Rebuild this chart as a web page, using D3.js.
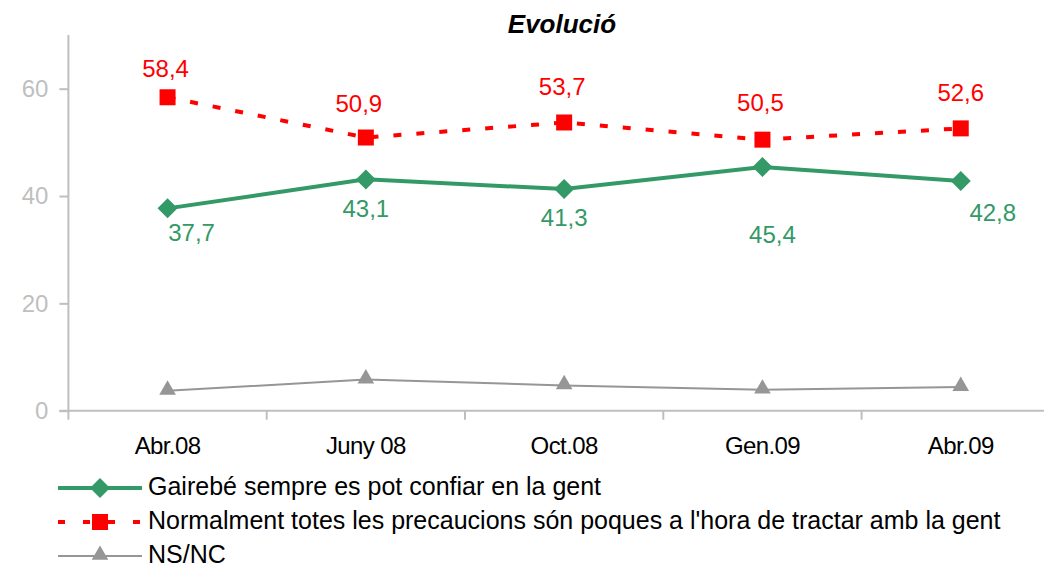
<!DOCTYPE html>
<html>
<head>
<meta charset="utf-8">
<script src="https://cdn.jsdelivr.net/npm/d3@7"></script>
<style>
body { margin: 0; background: #fff; }
svg { font-family: "Liberation Sans", Arial, sans-serif; }
</style>
</head>
<body>
<svg id="chart" width="1044" height="567"></svg>
<script>
var width = 1044;
var height = 567;

// data
var categories = ["Abr.08", "Juny 08", "Oct.08", "Gen.09", "Abr.09"];
var confiar = [37.7, 43.1, 41.3, 45.4, 42.8];
var precaucions = [58.4, 50.9, 53.7, 50.5, 52.6];
var nsnc = [3.7, 5.8, 4.7, 3.9, 4.4];
var yTicks = [0, 20, 40, 60];
var seriesNames = [
    "Gairebé sempre es pot confiar en la gent",
    "Normalment totes les precaucions són poques a l'hora de tractar amb la gent",
    "NS/NC"
];

var green = "#339966", red = "#ff0000", grey = "#969696", axisCol = "#bfbfbf";

var svg = d3.select("#chart");

var x = d3.scaleBand()
    .domain(categories)
    .range([68.4, 68.4 + 5 * 198.3]);

var y = d3.scaleLinear()
    .domain([0, 70])
    .range([410.7, 35]);

// title
svg.append("text")
    .attr("x", 562)
    .attr("y", 33)
    .attr("text-anchor", "middle")
    .style("font-size", "26px")
    .style("font-weight", "bold")
    .style("font-style", "italic")
    .text("Evolució");

// y axis
var yAxis = svg.append("g")
    .attr("transform", "translate(" + x.range()[0] + ",0)")
    .call(d3.axisLeft(y).tickValues(yTicks).tickSize(9).tickPadding(11));
yAxis.select(".domain").attr("d", "M0," + y(0) + "V" + y(70));
yAxis.selectAll("line, path").attr("stroke", axisCol).attr("stroke-width", 2);
yAxis.selectAll("text")
    .attr("fill", axisCol)
    .style("font-size", "24px")
    .style("font-family", "Liberation Sans, Arial, sans-serif");

// x axis, ticks between categories
var bounds = categories.slice(1).map(function(c) { return x(c); });
var xAxis = svg.append("g")
    .attr("transform", "translate(0," + y(0) + ")");
xAxis.append("line")
    .attr("x1", x.range()[0] - 9)
    .attr("x2", width)
    .attr("stroke", axisCol)
    .attr("stroke-width", 2);
xAxis.selectAll(".tk")
    .data([x.range()[0]].concat(bounds))
    .enter().append("line")
    .attr("x1", function(d) { return d; })
    .attr("x2", function(d) { return d; })
    .attr("y1", 0)
    .attr("y2", 9)
    .attr("stroke", axisCol)
    .attr("stroke-width", 2);
xAxis.selectAll(".lbl")
    .data(categories)
    .enter().append("text")
    .attr("x", function(d) { return x(d) + x.bandwidth() / 2; })
    .attr("y", 43)
    .attr("text-anchor", "middle")
    .style("font-size", "24px")
    .style("letter-spacing", "-0.6px")
    .text(function(d) { return d; });

function cx(i) { return x(categories[i]) + x.bandwidth() / 2; }

var line = d3.line()
    .x(function(d, i) { return cx(i); })
    .y(function(d) { return y(d); });

// NS/NC
svg.append("path")
    .datum(nsnc)
    .attr("d", line)
    .attr("fill", "none")
    .attr("stroke", grey)
    .attr("stroke-width", 2);
var tri = d3.symbol().type(d3.symbolTriangle).size(120);
svg.selectAll(".tri")
    .data(nsnc)
    .enter().append("path")
    .attr("transform", function(d, i) { return "translate(" + cx(i) + "," + (y(d) - 1) + ")"; })
    .attr("d", tri)
    .attr("fill", grey);

// green
svg.append("path")
    .datum(confiar)
    .attr("d", line)
    .attr("fill", "none")
    .attr("stroke", green)
    .attr("stroke-width", 4);
var diamond = d3.symbol().type(d3.symbolSquare).size(200);
svg.selectAll(".dia")
    .data(confiar)
    .enter().append("path")
    .attr("transform", function(d, i) { return "translate(" + cx(i) + "," + y(d) + ") rotate(45)"; })
    .attr("d", diamond)
    .attr("fill", green);

// red dashed
svg.append("path")
    .datum(precaucions)
    .attr("d", line)
    .attr("fill", "none")
    .attr("stroke", red)
    .attr("stroke-width", 4)
    .attr("stroke-dasharray", "8,15");
var square = d3.symbol().type(d3.symbolSquare).size(256);
svg.selectAll(".sq")
    .data(precaucions)
    .enter().append("path")
    .attr("transform", function(d, i) { return "translate(" + cx(i) + "," + y(d) + ")"; })
    .attr("d", square)
    .attr("fill", red);

// value labels (offsets from the marker, as placed in the original)
var fmt = function(v) { return v.toFixed(1).replace(".", ","); };
var greenOff = [[24, 33], [0, 38], [0, 37], [10, 76], [32, 40]];
var redOff = [[-2, -20], [-7, -26], [-2, -27], [-2, -29], [0, -27]];
svg.selectAll(".gl")
    .data(confiar)
    .enter().append("text")
    .attr("x", function(d, i) { return cx(i) + greenOff[i][0]; })
    .attr("y", function(d, i) { return y(d) + greenOff[i][1]; })
    .attr("text-anchor", "middle")
    .attr("fill", green)
    .style("font-size", "24px")
    .text(fmt);
svg.selectAll(".rl")
    .data(precaucions)
    .enter().append("text")
    .attr("x", function(d, i) { return cx(i) + redOff[i][0]; })
    .attr("y", function(d, i) { return y(d) + redOff[i][1]; })
    .attr("text-anchor", "middle")
    .attr("fill", red)
    .style("font-size", "24px")
    .text(fmt);

// legend
var legend = svg.append("g").attr("transform", "translate(58,0)");
var rows = [488, 522, 556];
var styles = [
    {c: green, w: 4, dash: null, sym: "dia"},
    {c: red, w: 4, dash: "7,18", sym: "sq"},
    {c: grey, w: 2, dash: null, sym: "tri"}
];
seriesNames.forEach(function(name, i) {
    var g = legend.append("g").attr("transform", "translate(0," + rows[i] + ")");
    g.append("line")
        .attr("x1", 0).attr("x2", 84)
        .attr("stroke", styles[i].c)
        .attr("stroke-width", styles[i].w)
        .attr("stroke-dasharray", styles[i].dash);
    var mark = g.append("path").attr("fill", styles[i].c);
    if (styles[i].sym == "dia") mark.attr("d", diamond).attr("transform", "translate(42,0) rotate(45)");
    else if (styles[i].sym == "sq") mark.attr("d", square).attr("transform", "translate(42,0)");
    else mark.attr("d", tri).attr("transform", "translate(42,-1)");
    g.append("text")
        .attr("x", 90)
        .attr("y", 7)
        .style("font-size", "25px")
        .text(name);
});
</script>
</body>
</html>
